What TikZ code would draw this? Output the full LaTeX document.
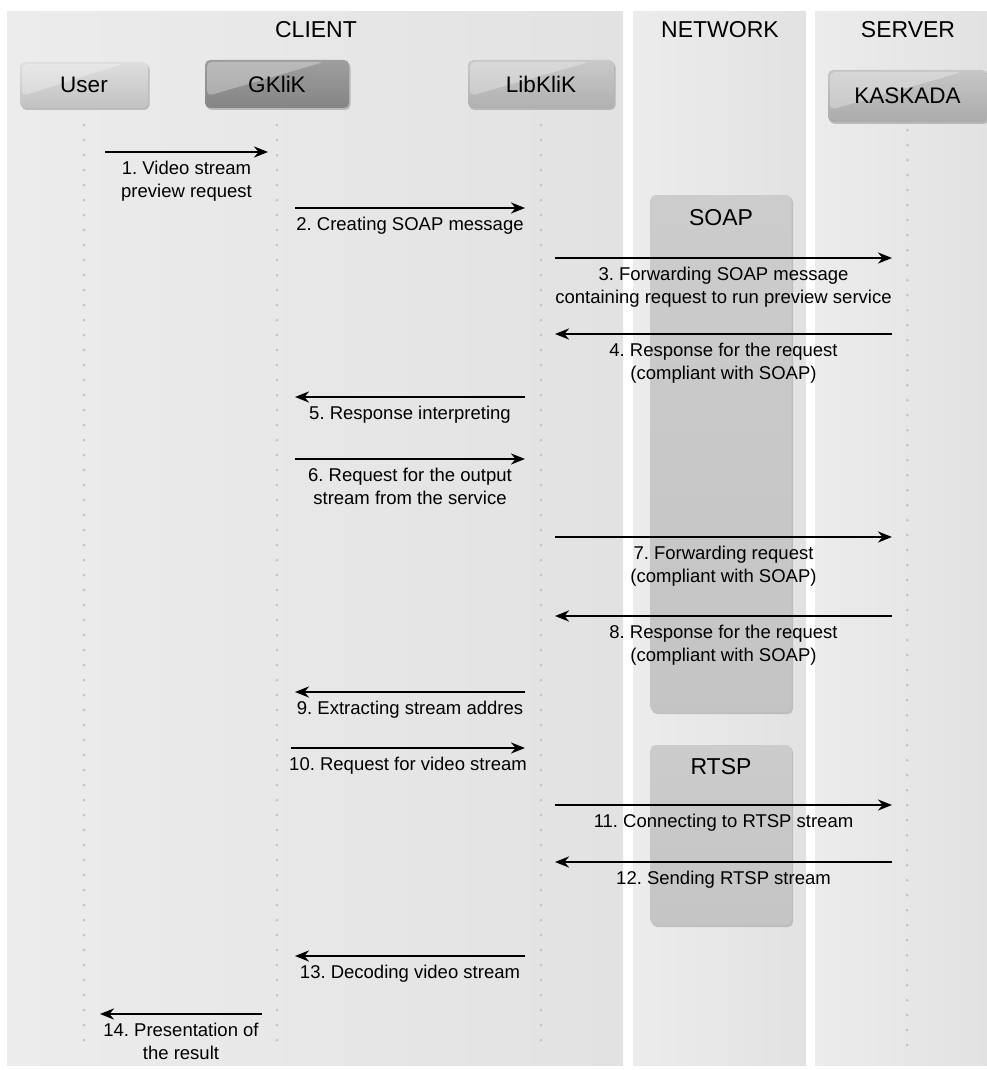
\documentclass[tikz,border=0pt]{standalone}
\usepackage{fontspec}
\setmainfont{Liberation Sans}
\usetikzlibrary{arrows.meta,shadows}
\definecolor{panelL}{HTML}{ECECEC}
\definecolor{panelR}{HTML}{E2E2E2}
\definecolor{lifegray}{HTML}{C4C4C4}
\frenchspacing
\begin{document}
\begin{tikzpicture}[x=1pt,y=-1pt,
  panel/.style={left color=panelL,right color=panelR},
  title/.style={font=\fontsize{23}{27}\selectfont,text=black},
  gloss/.style={path picture={\fill[white,opacity=0.3,rounded corners=5pt]
      ([shift={(2pt,-2pt)}]path picture bounding box.north west) --
      ([shift={(-25pt,-2pt)}]path picture bounding box.north east) --
      ([shift={(2pt,12pt)}]path picture bounding box.south west) -- cycle;}},
  actor/.style={rounded corners=5pt,draw=none,font=\fontsize{22.5}{26}\selectfont,
    inner sep=0pt,gloss,drop shadow={shadow xshift=1.5pt,shadow yshift=-2pt,opacity=0.35,fill=black!60}},
  grp/.style={rounded corners=5pt,draw=none,minimum width=141pt,inner sep=0pt,
    top color=black!20,bottom color=black!23,
    drop shadow={shadow xshift=1.5pt,shadow yshift=-2pt,opacity=0.3,fill=black!60}},
  life/.style={draw=lifegray,line width=3pt,line cap=round,dash pattern=on 0pt off 15pt},
  msg/.style={draw=black,line width=2.5pt,-{Stealth[length=14pt,width=11pt]}},
  lbl/.style={font=\fontsize{18.5}{23}\selectfont,align=center,inner sep=0pt,text=black}
]
\useasboundingbox (0,0) rectangle (987,1070);
\fill[white] (0,0) rectangle (987,1070);
% panels
\fill[panel] (7,12) rectangle (623,1065);
\fill[panel] (633,12) rectangle (806,1065);
\fill[panel] (815,12) rectangle (987,1065);
\node[title] (tclient) at (316,30) {CLIENT};
\node[title] (tnet) at (720,30) {NETWORK};
\node[title] (tserver) at (908,30) {SERVER};
% group boxes
\node[grp,minimum height=517pt] (soap) at (721,453.5) {};
\node[title] (soapt) at ([yshift=-23pt]soap.north) {SOAP};
\node[grp,minimum height=180pt] (rtsp) at (721,835) {};
\node[title] (rtspt) at ([yshift=-22pt]rtsp.north) {RTSP};
% actors
\node[actor,minimum width=128pt,minimum height=46pt,top color=black!13,bottom color=black!24] (user) at (84,85) {User};
\node[actor,minimum width=144pt,minimum height=48pt,top color=black!38,bottom color=black!48] (gklik) at (277,84) {GKliK};
\node[actor,minimum width=146pt,minimum height=48pt,top color=black!21,bottom color=black!31] (libklik) at (541,84) {LibKliK};
\node[actor,minimum width=159pt,minimum height=52pt,top color=black!22,bottom color=black!33] (kaskada) at (907.5,96) {KASKADA};
% lifelines
\coordinate (userE) at (84,1050);
\coordinate (gklikE) at (277,1050);
\coordinate (libklikE) at (541,1050);
\coordinate (kaskadaE) at (907,1050);
\draw[life] ([yshift=-17pt]user.south) -- (userE);
\draw[life] ([yshift=-17pt]gklik.south) -- (gklikE);
\draw[life] ([yshift=-17pt]libklik.south) -- (libklikE);
\draw[life] ([yshift=-8pt]kaskada.south) -- (kaskadaE);
% messages
\newcommand\seqmsg[5]{%
  \coordinate (#5s) at (#2,#1);
  \coordinate (#5e) at (#3,#1);
  \draw[msg] (#5s) -- (#5e);
  \path (#5s) -- (#5e) node[midway,below=9pt,lbl] (#5l) {#4};
}
\seqmsg{152}{105}{268}{1. Video stream\\preview request}{m1}
\seqmsg{208}{295}{525}{2. Creating SOAP message}{m2}
\seqmsg{258}{555}{892}{3. Forwarding SOAP message\\containing request to run preview service}{m3}
\seqmsg{334}{892}{555}{4. Response for the request\\(compliant with SOAP)}{m4}
\seqmsg{397}{525}{295}{5. Response interpreting}{m5}
\seqmsg{459}{295}{525}{6. Request for the output\\stream from the service}{m6}
\seqmsg{537}{555}{892}{7. Forwarding request\\(compliant with SOAP)}{m7}
\seqmsg{616}{892}{555}{8. Response for the request\\(compliant with SOAP)}{m8}
\seqmsg{692}{525}{295}{9. Extracting stream addres}{m9}
\seqmsg{748}{291}{525}{10. Request for video stream}{m10}
\seqmsg{805}{555}{892}{11. Connecting to RTSP stream}{m11}
\seqmsg{862}{892}{555}{12. Sending RTSP stream}{m12}
\seqmsg{956}{525}{295}{13. Decoding video stream}{m13}
\seqmsg{1014}{262}{100}{14. Presentation of\\the result}{m14}
\end{tikzpicture}
\end{document}
